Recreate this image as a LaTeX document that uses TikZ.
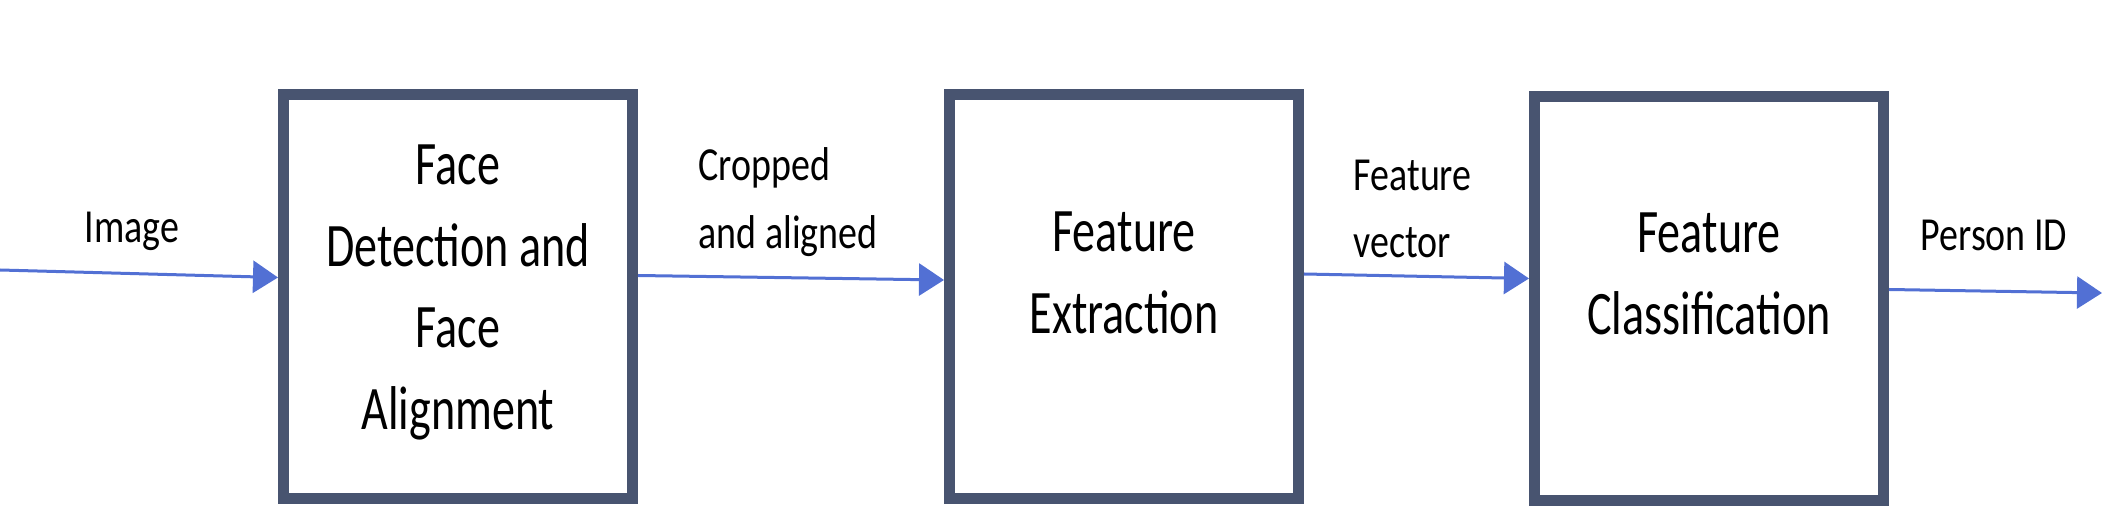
\documentclass[tikz,border=0pt]{standalone}
\usepackage{fontspec}
\setmainfont{Carlito}
\newfontfamily\boxfont{Carlito}[FakeStretch=0.745]
\newfontfamily\lblfont{Carlito}[FakeStretch=0.8]
\usetikzlibrary{arrows.meta}
\definecolor{boxline}{RGB}{72,84,112}
\definecolor{flowblue}{RGB}{82,112,212}
\tikzset{
  stage/.style = {rectangle, draw=boxline, line width=0.11cm, fill=white,
    minimum width=3.49cm, minimum height=4.04cm, inner sep=0pt},% bloc
  stagetext/.style = {align=center, inner sep=0pt,
    font=\boxfont\fontsize{17.6pt}{23.3pt}\selectfont},% texte du bloc
  flowlabel/.style = {align=left, inner sep=0pt,
    font=\lblfont\fontsize{13.5pt}{19.3pt}\selectfont},% texte des fleches
  flow/.style = {draw=flowblue, line width=0.03cm,
    -{Triangle[length=0.25cm,width=0.32cm]}}% fleche bleue
}

\begin{document}
\begin{tikzpicture}
\useasboundingbox (0,0) rectangle (21.06,-5.26);
% blocs
\node [stage] (fd) at (4.58,-2.965) {};
\node [stage] (fe) at (11.24,-2.97) {};
\node [stage] (fc) at (17.09,-2.985) {};
\node [stagetext] (fdtext) at (4.58,-2.925) {Face\\Detection and\\Face\\Alignment};
\node [stagetext] (fetext) at (11.24,-2.725) {Feature\\Extraction};
\node [stagetext] (fctext) at (17.09,-2.735) {Feature\\Classification};
% fleches
\coordinate (in) at (0,-2.70);
\coordinate (out) at (21.02,-2.93);
\draw [flow] (in) -- ([yshift=0.19cm]fd.west);
\draw [flow] ([yshift=0.21cm]fd.east) -- ([yshift=0.17cm]fe.west);
\draw [flow] ([yshift=0.23cm]fe.east) -- ([yshift=0.20cm]fc.west);
\draw [flow] ([yshift=0.09cm]fc.east) -- (out);
% textes
\node [flowlabel, anchor=base] (image) at (1.32,-2.43) {Image};
\node [flowlabel, anchor=west] (cropped) at (6.98,-2.02) {Cropped\\and aligned};
\node [flowlabel, anchor=west] (vector) at (13.53,-2.09) {Feature\\vector};
\node [flowlabel, anchor=base west] (person) at (19.2,-2.51) {Person ID};
\end{tikzpicture}
\end{document}
